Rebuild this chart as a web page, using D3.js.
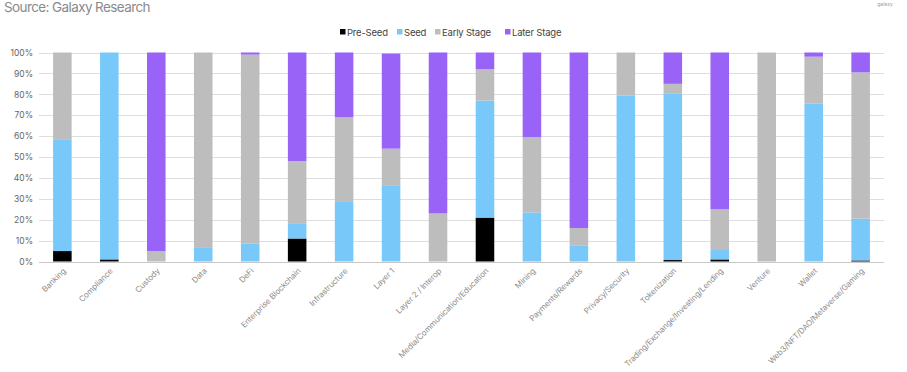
<!DOCTYPE html>
<html lang="en">
<head>
<meta charset="utf-8">
<title>Funding stage by category</title>
<script src="https://d3js.org/d3.v7.min.js"></script>
<style>
  body { margin: 0; background: #fff; font-family: Inter, "Noto Sans", sans-serif; }
  svg { display: block; }
</style>
</head>
<body>
<script>
// share of deals by stage, per category (in %)
var categories = ["Banking", "Compliance", "Custody", "Data", "DeFi", "Enterprise Blockchain",
  "Infrastructure", "Layer 1", "Layer 2 / Interop", "Media/Communication/Education", "Mining",
  "Payments/Rewards", "Privacy/Security", "Tokenization", "Trading/Exchange/Investing/Lending",
  "Venture", "Wallet", "Web3/NFT/DAO/Metaverse/Gaming"];
var preSeed    = [5, 1, 0, 0, 0, 11, 0, 0, 0, 21, 0, 0, 0, 0.7, 1, 0, 0, 0.5];
var seed       = [53.5, 99, 0, 6.5, 8.5, 7, 28.5, 36.5, 0, 56, 23.5, 7.5, 79.5, 79.5, 4.5, 0, 75.5, 20];
var earlyStage = [41.5, 0, 5, 93.5, 90.5, 30, 40.5, 17.5, 23, 15, 36, 8.5, 20.5, 4.8, 19.5, 100, 22.5, 70];
var laterStage = [0, 0, 95, 0, 1, 52, 31, 45.5, 77, 8, 40.5, 84, 0, 15, 75, 0, 2, 9.5];
var stages = ["Pre-Seed", "Seed", "Early Stage", "Later Stage"];
var yTicks = [0, 10, 20, 30, 40, 50, 60, 70, 80, 90, 100];

var colours = ["#000000", "#78c8f9", "#bdbdbd", "#9a63f7"];

var w = 907, h = 372;
var margin = {left: 39, right: 23, top: 52.5, bottom: 110.5};

var rows = categories.map(function (c, i) {
  return {cat: c, "Pre-Seed": preSeed[i], "Seed": seed[i], "Early Stage": earlyStage[i], "Later Stage": laterStage[i]};
});
var series = d3.stack().keys(stages)(rows);

var x = d3.scaleBand().domain(categories).range([margin.left, w - margin.right]).paddingInner(0.605).paddingOuter(0.3);
var y = d3.scaleLinear().domain([0, 100]).range([h - margin.bottom, margin.top]);
var colour = d3.scaleOrdinal().domain(stages).range(colours);

var svg = d3.select("body").append("svg").attr("width", w).attr("height", h);

// title bits
svg.append("text")
  .attr("x", 4).attr("y", 12)
  .style("font-size", "13.5px").style("fill", "#8a8a8a").style("letter-spacing", "-0.6px")
  .text("Source: Galaxy Research");
svg.append("text")
  .attr("x", 885).attr("y", 6).attr("text-anchor", "middle")
  .style("font-size", "5px").style("fill", "#999")
  .text("galaxy");

// gridlines
svg.append("g")
  .selectAll("line")
  .data(yTicks)
  .enter()
  .append("line")
  .attr("x1", margin.left).attr("x2", w - margin.right)
  .attr("y1", function (d) { return Math.round(y(d)) + 0.5; })
  .attr("y2", function (d) { return Math.round(y(d)) + 0.5; })
  .style("stroke", function (d) { return d === 0 ? "#c8c8c8" : "#dedede"; })
  .style("stroke-width", 1);

// y axis labels
var yAxis = d3.axisLeft(y).tickValues(yTicks).tickSize(0).tickPadding(6)
  .tickFormat(function (d) { return d + "%"; });
var yg = svg.append("g").attr("transform", "translate(" + margin.left + ",0)").call(yAxis);
yg.select(".domain").remove();
yg.selectAll("text").style("font-size", "8.5px").style("fill", "#666").style("font-family", "Inter, sans-serif");

// bars
svg.append("g")
  .selectAll("g")
  .data(series)
  .enter()
  .append("g")
  .attr("fill", function (d) { return colour(d.key); })
  .selectAll("rect")
  .data(function (d) { return d; })
  .enter()
  .append("rect")
  .attr("x", function (d) { return x(d.data.cat); })
  .attr("width", x.bandwidth())
  .attr("y", function (d) { return y(Math.min(d[1], 100)); })
  .attr("height", function (d) { return Math.max(0, y(d[0]) - y(Math.min(d[1], 100))); });

// x axis labels
var xAxis = d3.axisBottom(x).tickSize(0).tickPadding(0);
var xg = svg.append("g").attr("transform", "translate(0," + (h - margin.bottom) + ")").call(xAxis);
xg.select(".domain").remove();
xg.selectAll("text")
  .attr("text-anchor", "end")
  .attr("dy", 0)
  .attr("transform", "translate(4,10) rotate(-45)")
  .style("font-size", "8px").style("letter-spacing", "-0.1px")
  .style("fill", "#8c8c8c").style("font-family", "Inter, sans-serif");

// legend
var legendX = [340, 397, 435, 505];
var lg = svg.append("g")
  .selectAll("g")
  .data(stages)
  .enter()
  .append("g")
  .attr("transform", function (d, i) { return "translate(" + legendX[i] + ",32)"; });
lg.append("rect")
  .attr("x", 0).attr("y", -3).attr("width", 5.5).attr("height", 5.5)
  .attr("fill", function (d) { return colour(d); });
lg.append("text")
  .attr("x", 7).attr("y", 3.5)
  .style("font-size", "9.5px").style("fill", "#444").style("letter-spacing", "-0.2px")
  .text(function (d) { return d; });
</script>
</body>
</html>
